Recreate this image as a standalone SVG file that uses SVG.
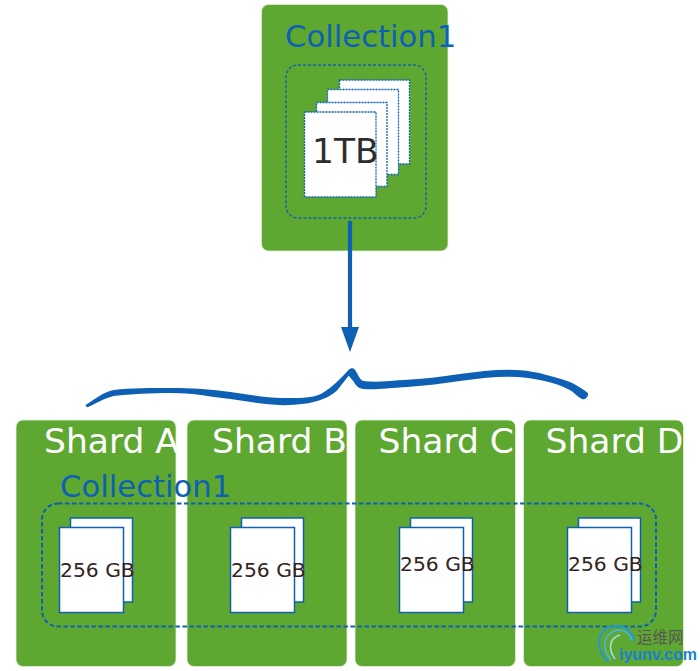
<svg xmlns="http://www.w3.org/2000/svg" width="700" height="671" viewBox="0 0 700 671">
<style>
text{font-family:"DejaVu Sans",sans-serif}
.card{fill:#5ea831;stroke:#e4eedc;stroke-width:.8}
.coll{font-size:30.7px;fill:#0e60b4}
.shard{font-size:34.5px;fill:#fff}
.gb{font-size:20.3px;fill:#35231c}
.dash{fill:none;stroke:#0e60b4;stroke-width:2;stroke-dasharray:4.5 2.5}
.dash2{fill:none;stroke:#0e60b4;stroke-width:1.400;stroke-dasharray:3 2}
.dp{fill:#fff;stroke:#0e60b4;stroke-width:1.300;stroke-dasharray:2 1}
.p{fill:#fff;stroke:#0e60b4;stroke-width:1.500}
</style>
<g id="collection-top">
<rect class="card" x="261.5" y="4.5" width="186.5" height="246.5" rx="7"/>
<text class="coll" x="285" y="47">Collection1</text>
<rect class="dash2" x="286" y="65" width="140" height="153" rx="12"/>
<rect class="dp" x="339.5" y="80" width="70" height="84"/>
<rect class="dp" x="327.5" y="89.500" width="71" height="85"/>
<rect class="dp" x="316.500" y="102.500" width="70.500" height="84"/>
<rect class="dp" x="304.500" y="112" width="71.500" height="85"/>
<text x="312" y="163" font-size="34.500" fill="#2d2d2d">1TB</text>
</g>
<g id="shard-a">
<rect class="card" x="16" y="420" width="160" height="246.500" rx="7"/>
<text class="shard" x="44" y="453">Shard A</text>
<rect class="p" x="70.500" y="518" width="62" height="84"/>
<rect class="p" x="59.500" y="527.500" width="64" height="85"/>
<text class="gb" x="60" y="577">256 GB</text>
</g>
<g id="shard-b">
<rect class="card" x="187" y="420" width="160" height="246.500" rx="7"/>
<text class="shard" x="212" y="453">Shard B</text>
<rect class="p" x="241.500" y="518" width="62" height="84"/>
<rect class="p" x="230.500" y="527.500" width="64" height="85"/>
<text class="gb" x="231" y="577">256 GB</text>
</g>
<g id="shard-c">
<rect class="card" x="355" y="420" width="160.500" height="246.500" rx="7"/>
<text class="shard" x="378.500" y="453">Shard C</text>
<rect class="p" x="410.500" y="518" width="62" height="84"/>
<rect class="p" x="399.500" y="527.500" width="64" height="85"/>
<text class="gb" x="400" y="571">256 GB</text>
</g>
<g id="shard-d">
<rect class="card" x="523.500" y="420" width="160" height="246.500" rx="7"/>
<text class="shard" x="545.500" y="453">Shard D</text>
<rect class="p" x="578.500" y="518" width="62" height="84"/>
<rect class="p" x="567.500" y="527.500" width="64" height="85"/>
<text class="gb" x="568" y="571">256 GB</text>
</g>
<g id="collection-shards">
<text class="coll" x="60" y="497">Collection1</text>
<rect class="dash" x="42" y="503.500" width="614" height="123" rx="16"/>
</g>
<g id="connectors">
<path d="M350 221V328" fill="none" stroke="#0e60b4" stroke-width="4.200"/>
<path d="M341 327H359L350 352Z" fill="#0e60b4"/>
<path transform="translate(70 320) scale(1.0135) translate(-70 -320)" d="M85 404C93 399 103 391 113 389C130 387 150 387 170 387C190 387 205 388 220 390C240 392 260 397 280 397C295 397 308 397 315 394C325 390 338 377 345 369C347 367 350 367 351 369C354 373 356 379 359 380C370 382 385 380 403 379C440 377 470 369 503 369C520 369 533 372 543 375C553 378 562 380 567 383C572 386 577 389 581 392C582 396 578 399 575 398C570 395 567 391 563 389C555 385 547 382 537 380C525 377 515 376 503 376C470 376 440 384 403 386C385 387 370 389 360 388C355 388 352 385 350 381L345 375C340 381 335 388 333 390C327 395 322 397 317 399C310 402 295 404 280 404C260 404 240 399 220 397C205 395 190 392 170 392C150 392 130 393 113 395C104 397 95 403 87 406Z" fill="#0e60b4"/>
</g>
<g id="watermark">
<path d="M608 662C594 648 596 628 616 626C625 625 632 632 634 641" fill="none" stroke="#1f9ad6" stroke-width="2"/>
<path d="M611 660C601 648 603 633 618 630C625 630 630 634 632 640" fill="none" stroke="#49b7e6" stroke-width="1.600"/>
<path d="M615 659C608 649 609 638 620 635" fill="none" stroke="#a8dcf2" stroke-width="1.500"/>
<text x="637" y="643" font-size="15.500" fill="#555" style="font-family:'Noto Sans CJK SC',sans-serif">运维网</text>
<text x="619" y="660" font-size="16" font-weight="700" fill="#1a7fd0" style="font-family:'Liberation Sans',sans-serif">iyunv.com</text>
</g>
</svg>
